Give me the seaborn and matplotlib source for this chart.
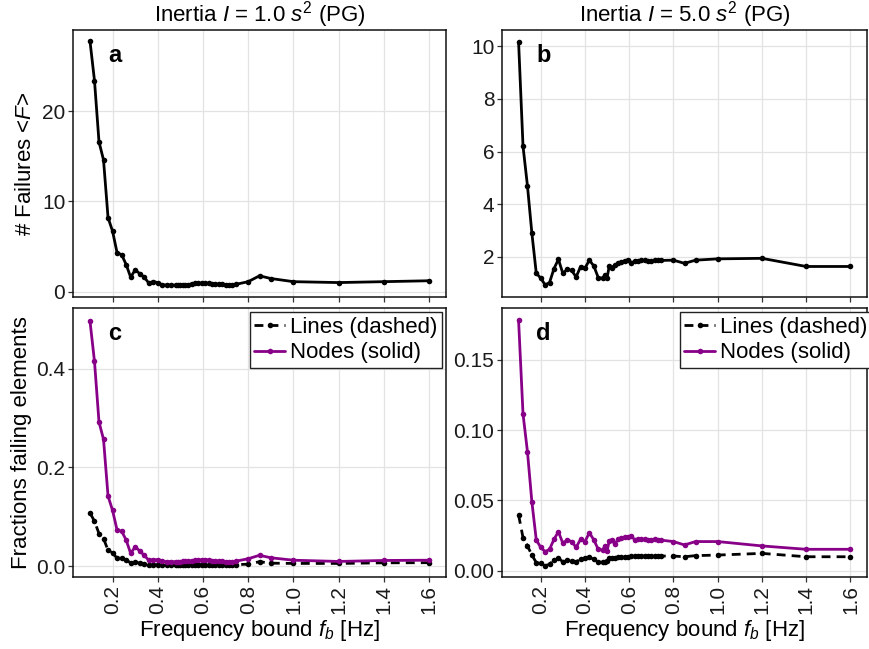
import numpy as np
import pandas as pd
import matplotlib
matplotlib.use("Agg")
import matplotlib.pyplot as plt
import seaborn as sns

# ---------------- data ----------------
freq = [0.10, 0.12, 0.14, 0.16, 0.18, 0.20, 0.22, 0.24, 0.26, 0.28,
        0.30, 0.32, 0.34, 0.36, 0.38, 0.40, 0.42, 0.44, 0.46, 0.48,
        0.49, 0.50, 0.51, 0.52,
        0.535, 0.55, 0.565, 0.58, 0.595, 0.61, 0.625, 0.64, 0.655, 0.67,
        0.685, 0.70, 0.715, 0.73, 0.745,
        0.80, 0.85, 0.90, 1.0, 1.2, 1.4, 1.6]

failures_I1 = [27.8, 23.4, 16.6, 14.6, 8.2, 6.7, 4.3, 4.1, 3.0, 1.6,
               2.4, 2.0, 1.6, 0.95, 1.1, 1.0, 0.75, 0.72, 0.70, 0.72,
               0.70, 0.72, 0.70, 0.75,
               0.78, 0.85, 0.90, 0.95, 0.92, 0.95, 0.90, 0.88, 0.85, 0.82,
               0.80, 0.78, 0.75, 0.75, 0.80,
               1.1, 1.75, 1.45, 1.1, 1.0, 1.1, 1.2]

failures_I5 = [10.16, 6.2, 4.7, 2.9, 1.37, 1.19, 0.93, 1.02, 1.55, 1.9,
               1.37, 1.52, 1.48, 1.23, 1.62, 1.57, 1.87, 1.65, 1.21, 1.18,
               1.31, 1.20, 1.65, 1.58,
               1.68, 1.75, 1.80, 1.85, 1.88, 1.78, 1.82, 1.85, 1.86, 1.86,
               1.85, 1.83, 1.86, 1.87, 1.86,
               1.87, 1.75, 1.87, 1.92, 1.94, 1.63, 1.63]

nodes_I1 = [0.497, 0.415, 0.292, 0.257, 0.142, 0.113, 0.073, 0.071, 0.053, 0.026,
            0.039, 0.031, 0.022, 0.012, 0.013, 0.013, 0.010, 0.009, 0.009, 0.009,
            0.009, 0.009, 0.010, 0.010,
            0.010, 0.011, 0.012, 0.013, 0.012, 0.013, 0.012, 0.011, 0.011, 0.010,
            0.010, 0.009, 0.009, 0.009, 0.010,
            0.015, 0.022, 0.017, 0.012, 0.0095, 0.0115, 0.012]

lines_I1 = [0.108, 0.091, 0.066, 0.056, 0.032, 0.027, 0.016, 0.017, 0.012, 0.007,
            0.008, 0.006, 0.005, 0.003, 0.003, 0.003, 0.002, 0.002, 0.002, 0.002,
            0.002, 0.002, 0.002, 0.002,
            0.002, 0.003, 0.003, 0.003, 0.003, 0.003, 0.003, 0.003, 0.003, 0.003,
            0.003, 0.003, 0.003, 0.003, 0.003,
            0.004, 0.009, 0.006, 0.0055, 0.0055, 0.0067, 0.007]

nodes_I5 = [0.178, 0.1115, 0.0847, 0.049, 0.0218, 0.0166, 0.0135, 0.0152, 0.0223, 0.0277,
            0.0195, 0.0219, 0.0207, 0.0166, 0.0223, 0.0207, 0.027, 0.0219, 0.0152, 0.0147,
            0.0176, 0.014, 0.0213, 0.0219,
            0.019, 0.0223, 0.0231, 0.0238, 0.0243, 0.0247, 0.0219, 0.0226, 0.0223, 0.0222,
            0.0219, 0.0221, 0.0223, 0.0219, 0.0217,
            0.0207, 0.0183, 0.0207, 0.0207, 0.0176, 0.0152, 0.0152]

lines_I5 = [0.0396, 0.0235, 0.0176, 0.0112, 0.0057, 0.0052, 0.0036, 0.0045, 0.0076, 0.0088,
            0.0064, 0.0076, 0.0071, 0.0064, 0.0081, 0.0088, 0.0095, 0.0081, 0.006, 0.006,
            0.0064, 0.0071, 0.0088, 0.009,
            0.0092, 0.0095, 0.0097, 0.0099, 0.0100, 0.0101, 0.0101, 0.0102, 0.0102, 0.0103,
            0.0103, 0.0104, 0.0104, 0.0104, 0.0104,
            0.0104, 0.0099, 0.0107, 0.0111, 0.0123, 0.0099, 0.0099]

x_ticks = [0.2, 0.4, 0.6, 0.8, 1.0, 1.2, 1.4, 1.6]
x_ticklabels = ["0.2", "0.4", "0.6", "0.8", "1.0", "1.2", "1.4", "1.6"]
titles = [r"Inertia $\mathit{I}$ = 1.0 $\mathit{s}^2$ (PG)",
          r"Inertia $\mathit{I}$ = 5.0 $\mathit{s}^2$ (PG)"]
panel_letters = ["a", "b", "c", "d"]
legend_labels = ["Lines (dashed)", "Nodes (solid)"]

# ---------------- style ----------------
sns.set_style("whitegrid")
plt.rcParams["font.family"] = ["Liberation Sans", "DejaVu Sans"]
plt.rcParams["mathtext.fontset"] = "custom"
plt.rcParams["mathtext.rm"] = "Liberation Sans"
plt.rcParams["mathtext.it"] = "Liberation Sans:italic"
plt.rcParams["mathtext.bf"] = "Liberation Sans:bold"
plt.rcParams["text.color"] = "black"
plt.rcParams["axes.labelcolor"] = "black"

PURPLE = "#870087"
W, H = 869, 649
fig = plt.figure(figsize=(W / 100, H / 100), dpi=100)

def frac(l, r, t, b):
    return [l / W, 1 - b / H, (r - l) / W, (b - t) / H]

ax_a = fig.add_axes(frac(73, 446, 30, 297))
ax_b = fig.add_axes(frac(502, 867, 30, 297))
ax_c = fig.add_axes(frac(73, 446, 308, 577))
ax_d = fig.add_axes(frac(502, 867, 308, 577))

df = pd.DataFrame({"f": freq, "fail1": failures_I1, "fail5": failures_I5,
                   "n1": nodes_I1, "l1": lines_I1, "n5": nodes_I5, "l5": lines_I5})

mk = dict(marker="o", markersize=4.0, markeredgewidth=0, linewidth=2.0)

sns.lineplot(data=df, x="f", y="fail1", ax=ax_a, color="black", **mk)
sns.lineplot(data=df, x="f", y="fail5", ax=ax_b, color="black", **mk)
for ax, lc, nc in [(ax_c, "l1", "n1"), (ax_d, "l5", "n5")]:
    sns.lineplot(data=df, x="f", y=lc, ax=ax, color="black", linestyle=(0, (3.2, 2.2)),
                 label=legend_labels[0], **mk)
    sns.lineplot(data=df, x="f", y=nc, ax=ax, color=PURPLE, label=legend_labels[1], **mk)

ylims = [(-0.6, 29.0), (0.47, 10.62), (-0.022, 0.523), (-0.0045, 0.1868)]
yticks = [([0, 10, 20], ["0", "10", "20"]),
          ([2, 4, 6, 8, 10], ["2", "4", "6", "8", "10"]),
          ([0.0, 0.2, 0.4], ["0.0", "0.2", "0.4"]),
          ([0.0, 0.05, 0.10, 0.15], ["0.00", "0.05", "0.10", "0.15"])]

for i, ax in enumerate([ax_a, ax_b, ax_c, ax_d]):
    ax.set_xlim(0.025, 1.675)
    ax.set_ylim(*ylims[i])
    ax.set_yticks(yticks[i][0])
    ax.set_yticklabels(yticks[i][1], fontsize=15, color="#1a1a1a")
    ax.set_xticks(x_ticks)
    if i >= 2:
        ax.set_xticklabels(x_ticklabels, rotation=90, fontsize=15, color="#1a1a1a")
        ax.set_xlabel(r"Frequency bound $\mathit{f}_b$ [Hz]", fontsize=16, labelpad=3)
    else:
        ax.set_xticklabels([])
        ax.set_xlabel("")
    ax.set_ylabel("")
    ax.grid(True, color="#e3e3e3", linewidth=0.9)
    for s in ax.spines.values():
        s.set_visible(True)
        s.set_color("#111111")
        s.set_linewidth(1.1)
    ax.tick_params(axis="both", which="major", direction="out", length=3.5, width=0.9,
                   color="#333333", pad=2, bottom=True, left=True)
    ax.set_facecolor("white")
    ax.text(0.113, 0.905, panel_letters[i], transform=ax.transAxes, fontsize=17,
            fontweight="bold", ha="center", va="center", color="black")

ax_a.set_title(titles[0], fontsize=16, pad=4)
ax_b.set_title(titles[1], fontsize=16, pad=4)
ax_a.set_ylabel(r"# Failures <$\mathit{F}$>", fontsize=16, labelpad=4)
ax_c.set_ylabel("Fractions failing elements", fontsize=16, labelpad=3)

for ax, xa in [(ax_c, 1.0), (ax_d, 1.025)]:
    leg = ax.legend(loc="upper right", bbox_to_anchor=(xa, 1.0), fontsize=16, frameon=True,
                    fancybox=False, edgecolor="#222222", framealpha=1, borderpad=0.2,
                    labelspacing=0.2, handlelength=1.4, handletextpad=0.2,
                    borderaxespad=0.2)
    leg.get_frame().set_linewidth(1.0)

fig.savefig("out.png", dpi=100)
